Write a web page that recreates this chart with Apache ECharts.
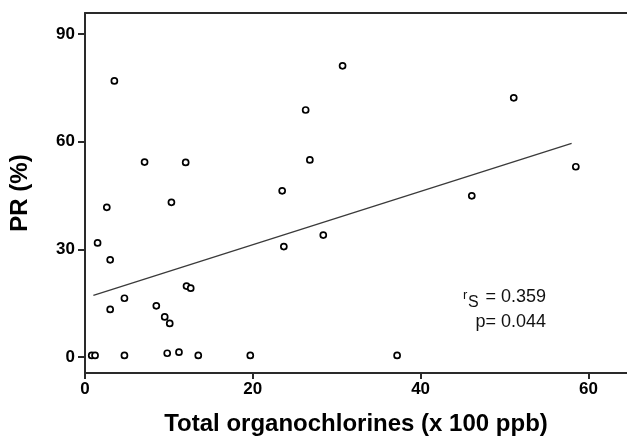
<!DOCTYPE html>
<html>
<head>
<meta charset="utf-8">
<script src="https://cdn.jsdelivr.net/npm/echarts@6/dist/echarts.min.js"></script>
<style>
html,body{margin:0;padding:0;background:#fff;}
#chart{width:627px;height:441px;}
</style>
</head>
<body>
<div id="chart"></div>
<script>
// Data
var organochlorines = [0.8, 1.2, 1.5, 2.6, 3.0, 3.0, 3.5, 4.7, 4.7, 7.1, 8.5, 9.5, 9.8, 10.1, 10.3, 11.2, 12.0, 12.1, 12.6, 13.5, 19.7, 23.5, 23.7, 26.3, 26.8, 28.4, 30.7, 37.2, 46.1, 51.1, 58.5];
var prPercent      = [0.5, 0.5, 31.8, 41.7, 27.1, 13.3, 76.9, 0.5, 16.4, 54.3, 14.3, 11.2, 1.1, 9.4, 43.1, 1.4, 54.2, 19.8, 19.2, 0.5, 0.5, 46.3, 30.8, 68.8, 54.9, 34.0, 81.1, 0.5, 44.9, 72.2, 53.0];
var fitLineX = [1.0, 58.0];
var fitLineY = [17.2, 59.5];
var xTicks = [0, 20, 40, 60];
var yTicks = [0, 30, 60, 90];
var xTitle = 'Total organochlorines (x 100 ppb)';
var yTitle = 'PR (%)';
var statR = '= 0.359';
var statP = 'p= 0.044';

var points = organochlorines.map(function (x, i) { return [x, prPercent[i]]; });
var fitLine = fitLineX.map(function (x, i) { return [x, fitLineY[i]]; });

var FONT = '"Liberation Sans", Arial, Helvetica, sans-serif';
var AXIS_COLOR = '#2a2a2a';

var chart = echarts.init(document.getElementById('chart'), null, {renderer: 'canvas'});
chart.setOption({
  animation: false,
  backgroundColor: '#ffffff',
  grid: {left: 85, top: 13, right: 0, bottom: 64, containLabel: false},
  xAxis: [{
    type: 'value', min: 0, max: 64.6, position: 'bottom',
    splitLine: {show: false},
    axisLine: {show: true, onZero: false, lineStyle: {color: AXIS_COLOR, width: 2}},
    axisTick: {show: true, length: 6, lineStyle: {color: AXIS_COLOR, width: 2}, customValues: xTicks},
    axisLabel: {customValues: xTicks, margin: 8, color: '#000', fontFamily: FONT, fontWeight: 'bold', fontSize: 17},
    name: xTitle, nameLocation: 'middle', nameGap: 39,
    nameTextStyle: {color: '#000', fontFamily: FONT, fontWeight: 'bold', fontSize: 24}
  }, {
    type: 'value', min: 0, max: 64.6, position: 'top',
    splitLine: {show: false},
    axisLine: {show: true, onZero: false, lineStyle: {color: AXIS_COLOR, width: 2}},
    axisTick: {show: false}, axisLabel: {show: false}
  }],
  yAxis: [{
    type: 'value', min: -4.4, max: 95.8, position: 'left',
    splitLine: {show: false},
    axisLine: {show: true, onZero: false, lineStyle: {color: AXIS_COLOR, width: 2}},
    axisTick: {show: true, length: 7, lineStyle: {color: AXIS_COLOR, width: 2}, customValues: yTicks},
    axisLabel: {customValues: yTicks, margin: 10, color: '#000', fontFamily: FONT, fontWeight: 'bold', fontSize: 17},
    name: yTitle, nameLocation: 'middle', nameGap: 53, nameRotate: 90,
    nameTextStyle: {color: '#000', fontFamily: FONT, fontWeight: 'bold', fontSize: 24}
  }],
  series: [{
    type: 'line', data: fitLine, xAxisIndex: 0, yAxisIndex: 0,
    showSymbol: false, symbol: 'none', silent: true,
    lineStyle: {color: '#3a3a3a', width: 1.3}, z: 2
  }, {
    type: 'scatter', data: points, xAxisIndex: 0, yAxisIndex: 0,
    symbol: 'circle', symbolSize: 6,
    itemStyle: {color: '#ffffff', borderColor: '#000000', borderWidth: 1.7, opacity: 1}, z: 3
  }],
  graphic: [
    {type: 'text', x: 463, y: 295, style: {text: 'r', font: '13px ' + FONT, fill: '#111', textVerticalAlign: 'middle'}},
    {type: 'text', x: 468, y: 302.5, style: {text: 'S', font: '16px ' + FONT, fill: '#111', textVerticalAlign: 'middle'}},
    {type: 'text', x: 546, y: 297, style: {text: statR, font: '18px ' + FONT, fill: '#111', textAlign: 'right', textVerticalAlign: 'middle'}},
    {type: 'text', x: 546, y: 322, style: {text: statP, font: '18px ' + FONT, fill: '#111', textAlign: 'right', textVerticalAlign: 'middle'}}
  ]
});
</script>
</body>
</html>
